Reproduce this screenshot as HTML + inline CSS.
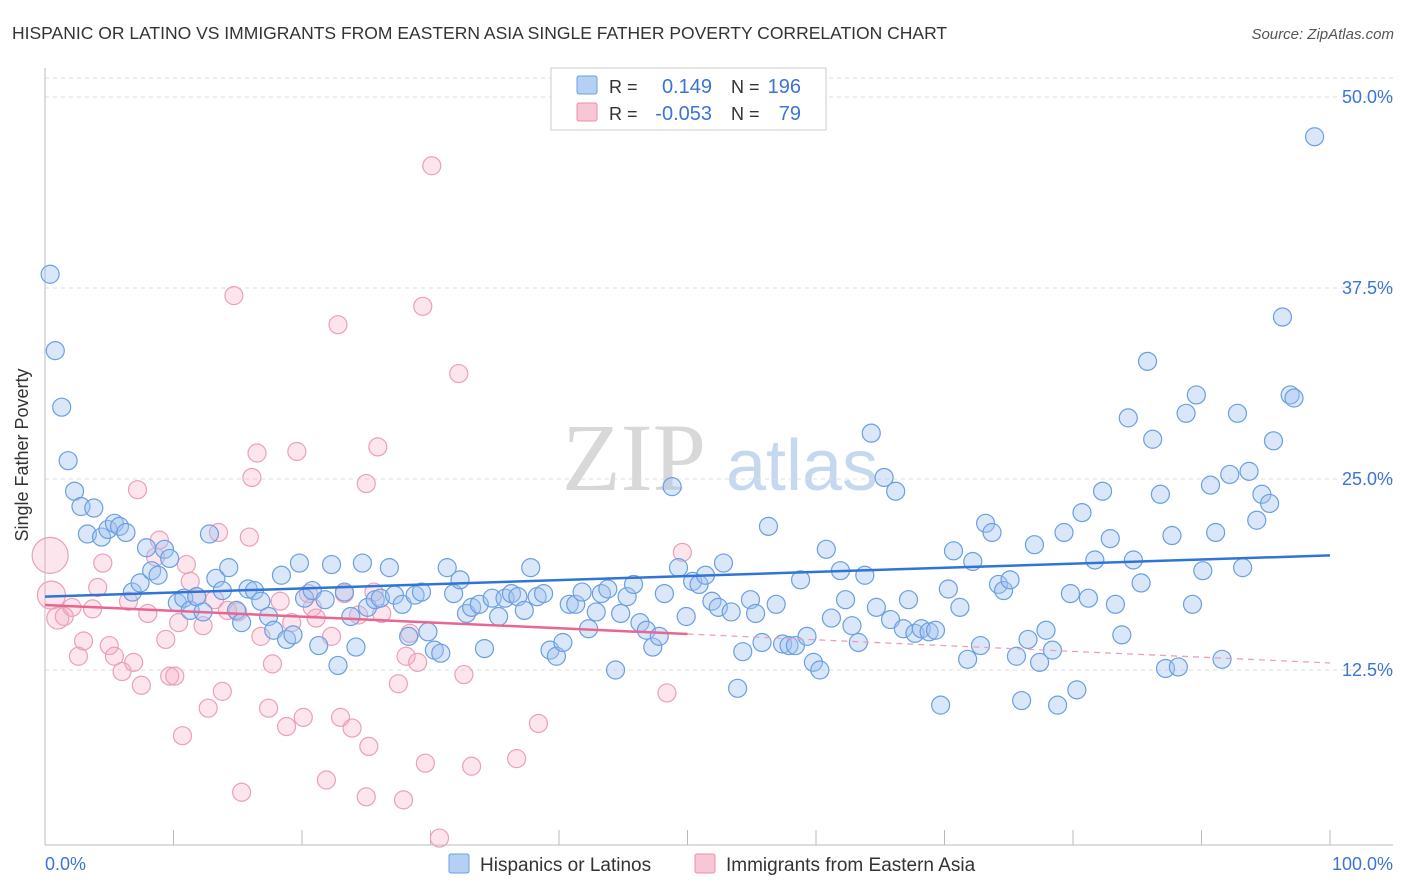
<!DOCTYPE html>
<html><head><meta charset="utf-8">
<style>
html,body{margin:0;padding:0;background:#fff;width:1406px;height:892px;overflow:hidden}
svg{display:block;font-family:"Liberation Sans",sans-serif}
</style></head>
<body>
<svg id="chart" width="1406" height="892" xmlns="http://www.w3.org/2000/svg">
<text x="12" y="39" font-size="17.5" fill="#333">HISPANIC OR LATINO VS IMMIGRANTS FROM EASTERN ASIA SINGLE FATHER POVERTY CORRELATION CHART</text>
<text x="1394" y="39" font-size="15" fill="#555" font-style="italic" text-anchor="end">Source: ZipAtlas.com</text>
<g>
<text x="634" y="490" font-size="96" fill="#d8d8d8" font-family="Liberation Serif,serif" text-anchor="middle">ZIP</text>
<text x="802" y="490" font-size="72" fill="#c6d8f0" text-anchor="middle">atlas</text>
</g>
<g id="grid"></g>
<g id="axes"></g>
<g id="pinkPts"></g>
<g id="bluePts"></g>
<g id="trends"></g>
<text x="28" y="455" font-size="18" fill="#333" text-anchor="middle" transform="rotate(-90 28 455)">Single Father Poverty</text>
<text x="45" y="870" font-size="18" fill="#3a75d6">0.0%</text>
<text x="1393" y="870" font-size="18" fill="#3a75d6" text-anchor="end">100.0%</text>
<g>
<rect x="551" y="68" width="275" height="62" fill="#fff" stroke="#ccc"/>
<rect x="577" y="76" width="20" height="18" fill="#b5d0f5" stroke="#6a9fe0" rx="2"/>
<text x="609" y="93" font-size="18" fill="#333">R =</text>
<text x="712" y="93" font-size="20" fill="#3a75d6" text-anchor="end">0.149</text>
<text x="731" y="93" font-size="18" fill="#333">N =</text>
<text x="801" y="93" font-size="20" fill="#3a75d6" text-anchor="end">196</text>
<rect x="577" y="103" width="20" height="18" fill="#f8c6d5" stroke="#e890aa" rx="2"/>
<text x="609" y="120" font-size="18" fill="#333">R =</text>
<text x="712" y="120" font-size="20" fill="#3a75d6" text-anchor="end">-0.053</text>
<text x="731" y="120" font-size="18" fill="#333">N =</text>
<text x="801" y="120" font-size="20" fill="#3a75d6" text-anchor="end">79</text>
</g>
<g>
<rect x="449" y="854" width="20" height="19" fill="#b5d0f5" stroke="#6a9fe0" rx="2"/>
<text x="480" y="871" font-size="19" fill="#333">Hispanics or Latinos</text>
</g>
<g>
<rect x="695" y="854" width="20" height="19" fill="#f8c6d5" stroke="#e890aa" rx="2"/>
<text x="726" y="871" font-size="19" fill="#333">Immigrants from Eastern Asia</text>
</g>
</svg>
<script>
const yTicks=[12.5,25,37.5,50];
const yTickLabels=["12.5%","25.0%","37.5%","50.0%"];
const blueX=[0.4,0.8,1.3,1.8,2.3,2.8,3.8,3.3,4.4,4.9,5.4,5.8,6.3,6.8,7.4,7.9,8.3,8.8,9.3,9.7,10.3,10.8,11.3,11.8,12.3,12.8,13.3,13.8,14.3,14.9,15.3,15.8,16.3,16.8,17.4,17.8,18.4,18.8,19.3,19.8,20.2,20.8,21.3,21.8,22.3,22.8,23.3,23.8,24.2,24.7,25.1,25.7,26.1,26.8,27.2,27.8,28.3,28.8,29.3,29.8,30.3,30.8,31.3,31.8,32.3,32.8,33.2,33.8,34.2,34.8,35.3,35.8,36.3,36.8,37.3,37.8,38.3,38.8,39.3,39.8,40.3,40.8,41.3,41.8,42.3,42.9,43.3,43.8,44.4,44.8,45.3,45.8,46.3,46.8,47.3,47.8,48.2,48.8,49.3,49.9,50.4,50.9,51.4,51.9,52.4,52.8,53.4,53.9,54.3,54.9,55.3,55.8,56.3,56.9,57.4,57.9,58.4,58.8,59.3,59.8,60.3,60.8,61.2,61.9,62.3,62.8,63.3,63.8,64.3,64.7,65.3,65.8,66.2,66.8,67.2,67.7,68.2,68.8,69.3,69.7,70.3,70.7,71.2,71.8,72.2,72.8,73.2,73.7,74.2,74.6,75.1,75.6,76.0,76.5,77.0,77.4,77.9,78.4,78.8,79.3,79.8,80.3,80.7,81.2,81.7,82.3,82.9,83.3,83.8,84.3,84.7,85.3,85.8,86.2,86.8,87.2,87.7,88.2,88.8,89.3,89.6,90.1,90.7,91.1,91.6,92.2,92.8,93.2,93.7,94.3,94.7,95.3,95.6,96.3,96.9,97.2,98.8];
const blueY=[38.4,33.4,29.7,26.2,24.2,23.2,23.1,21.4,21.2,21.7,22.1,21.9,21.5,17.6,18.2,20.5,19.0,18.7,20.4,19.8,16.9,17.2,16.4,17.3,16.3,21.4,18.5,17.7,19.2,16.4,15.6,17.8,17.7,17.0,16.0,15.1,18.7,14.5,14.8,19.5,17.2,17.7,14.1,17.1,19.4,12.8,17.6,16.0,14.0,19.5,16.6,17.1,17.2,19.2,17.4,16.8,14.7,17.4,17.6,15.0,13.8,13.6,19.2,17.5,18.4,16.2,16.6,16.8,13.9,17.2,16.0,17.2,17.5,17.3,16.4,19.2,17.3,17.5,13.8,13.4,14.3,16.8,16.8,17.6,15.2,16.3,17.5,17.8,12.5,16.2,17.3,18.1,15.6,15.1,14.0,14.7,17.5,24.5,19.2,16.0,18.3,18.1,18.7,17.0,16.6,19.5,16.3,11.3,13.7,17.1,16.2,14.3,21.9,16.8,14.2,14.1,14.1,18.4,14.7,13.0,12.5,20.4,15.9,19.0,17.1,15.4,14.3,18.7,28.0,16.6,25.1,15.8,24.2,15.2,17.1,14.9,15.2,15.0,15.1,10.2,17.8,20.3,16.6,13.2,19.6,14.1,22.1,21.5,18.1,17.7,18.4,13.4,10.5,14.5,20.7,13.0,15.1,13.8,10.2,21.5,17.5,11.2,22.8,17.2,19.7,24.2,21.1,16.8,14.8,29.0,19.7,18.2,32.7,27.6,24.0,12.6,21.3,12.7,29.3,16.8,30.5,19.0,24.6,21.5,13.2,25.3,29.3,19.2,25.5,22.3,24.0,23.4,27.5,35.6,30.5,30.3,47.4];
const pinkX=[0.4,0.5,1.0,1.5,2.1,2.6,3.0,3.7,4.1,4.5,5.0,5.4,6.0,6.5,6.9,7.2,7.5,8.0,8.6,8.9,9.4,9.7,10.1,10.4,10.7,11.0,11.3,11.8,12.3,12.7,13.2,13.5,13.8,14.2,14.7,15.0,15.3,15.9,16.1,16.5,16.8,17.4,17.7,18.3,18.8,19.2,19.6,20.1,20.5,20.8,21.1,21.9,22.3,22.8,23.0,23.3,23.9,24.4,25.0,25.2,25.0,25.6,25.9,26.2,27.5,27.9,28.1,28.4,29.0,29.4,29.6,30.1,30.7,32.2,32.6,33.2,36.7,38.4,48.4,49.6];
const pinkY=[20.0,17.4,15.9,16.0,16.6,13.4,14.4,16.5,17.9,19.5,14.1,13.4,12.4,17.0,13.0,24.3,11.5,16.2,19.9,21.0,14.5,12.1,12.1,15.6,8.2,19.4,18.3,17.3,15.4,10.0,17.1,21.5,11.1,16.4,37.0,16.3,4.5,21.2,25.1,26.7,14.7,10.0,12.9,17.0,8.8,15.6,26.8,9.4,17.5,16.6,15.9,5.3,14.7,35.1,9.4,17.5,8.7,16.1,24.7,7.5,4.2,17.6,27.1,16.2,11.6,4.0,13.4,14.9,13.0,36.3,6.4,45.5,1.5,31.9,12.2,6.2,6.7,9.0,11.0,20.2];
const pinkBig=[18,14,11];
const blueTrend=[17.3,20.0];
const pinkTrend=[16.75,12.96];
const pinkSolidEnd=50;

const NS="http://www.w3.org/2000/svg";
const X0=45,X1=1330,Y0=861,PPY=15.28;
function sx(v){return X0+(X1-X0)*v/100;}
function sy(v){return Y0-v*PPY;}
function mk(tag,attrs,parent){const e=document.createElementNS(NS,tag);for(const k in attrs)e.setAttribute(k,attrs[k]);parent.appendChild(e);return e;}
const grid=document.getElementById('grid'),axes=document.getElementById('axes');
mk('line',{x1:45,x2:1393,y1:78,y2:78,stroke:'#ddd','stroke-dasharray':'4 4'},grid);
yTicks.forEach((t,i)=>{
  const l=mk('line',{x1:45,x2:1393,y1:sy(t),y2:sy(t),stroke:'#ddd','stroke-dasharray':'4 4'},grid);
  
  
  const tx=mk('text',{x:1393,y:sy(t)+6,'font-size':18,fill:'#3a75d6','text-anchor':'end'},grid);
  tx.textContent=yTickLabels[i];
  
  
});
const ya=mk('line',{x1:45,x2:45,y1:68,y2:845,stroke:'#bbb'},axes);


const xa=mk('line',{x1:45,x2:1393,y1:845,y2:845,stroke:'#bbb'},axes);


for(let i=0;i<=10;i++){
  const t=mk('line',{x1:sx(i*10),x2:sx(i*10),y1:830,y2:845,stroke:'#bbb'},axes);
  
  
}
const pg=document.getElementById('pinkPts');
pinkX.forEach((x,i)=>{
  const r=i<3?pinkBig[i]:9;
  const c=mk('circle',{cx:sx(x),cy:sy(pinkY[i]),r:r,fill:'rgba(245,170,195,0.3)',stroke:'#eaa0b8','stroke-width':1.2},pg);
  
  
});
const bg=document.getElementById('bluePts');
blueX.forEach((x,i)=>{
  const c=mk('circle',{cx:sx(x),cy:sy(blueY[i]),r:9,fill:'rgba(160,195,240,0.4)',stroke:'#6a9fe0','stroke-width':1.2},bg);
  
  
});
const tg=document.getElementById('trends');
const bl=mk('line',{x1:sx(0),y1:sy(blueTrend[0]),x2:sx(100),y2:sy(blueTrend[1]),stroke:'#2f74d6','stroke-width':2.5},tg);


const pm=pinkTrend[0]+(pinkTrend[1]-pinkTrend[0])*pinkSolidEnd/100;
const pl=mk('line',{x1:sx(0),y1:sy(pinkTrend[0]),x2:sx(pinkSolidEnd),y2:sy(pm),stroke:'#e8668f','stroke-width':2.5},tg);


const pd=mk('line',{x1:sx(pinkSolidEnd),y1:sy(pm),x2:sx(100),y2:sy(pinkTrend[1]),stroke:'#eaa0b8','stroke-width':1.3,'stroke-dasharray':'6 5'},tg);


</script>
</body></html>
